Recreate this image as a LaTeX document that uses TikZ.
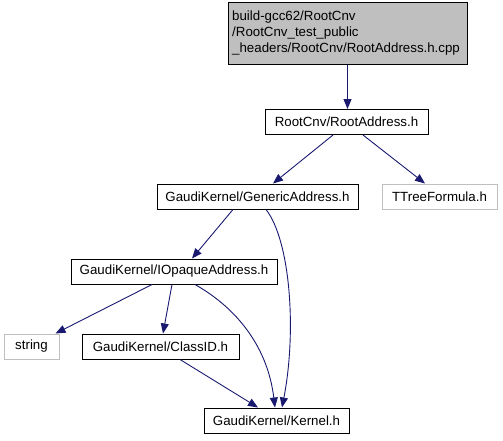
\documentclass[tikz,border=0pt]{standalone}
\usepackage{fontspec}
\setmainfont{Liberation Sans}
\usetikzlibrary{arrows.meta}
\definecolor{edgeblue}{HTML}{191970}
\definecolor{boxgray}{HTML}{BFBFBF}
\begin{document}
\begin{tikzpicture}[x=1pt,y=-1pt,
  box/.style={draw=black,line width=1pt,inner sep=0pt,minimum height=25pt,font=\fontsize{13.3}{15.5}\selectfont},
  greybox/.style={box,draw=boxgray},
  dep/.style={draw=edgeblue,line width=0.9pt,-{Triangle[length=10pt,width=8pt]}}]
\useasboundingbox (0,0) rectangle (503,440);
\node[box,fill=boxgray,minimum width=239pt,minimum height=62pt] (top) at (347.5,33) {};
\node[anchor=west,align=left,inner sep=0pt,font=\fontsize{13.3}{16}\selectfont] (toptext) at (232,33) {build-gcc62/RootCnv\\/RootCnv\_test\_public\\\_headers/RootCnv/RootAddress.h.cpp};
\node[box,minimum width=163pt] (ra) at (346.5,122) {RootCnv/RootAddress.h};
\node[box,minimum width=201pt] (ga) at (257.5,196.5) {GaudiKernel/GenericAddress.h};
\node[greybox,minimum width=115pt] (tt) at (439.5,196.5) {TTreeFormula.h};
\node[box,minimum width=206pt] (io) at (174,271.5) {GaudiKernel/IOpaqueAddress.h};
\node[greybox,minimum width=55pt] (str) at (31.5,346.5) {string};
\node[box,minimum width=157pt] (cid) at (160.5,346.5) {GaudiKernel/ClassID.h};
\node[box,minimum width=145pt] (k) at (276.5,420.5) {GaudiKernel/Kernel.h};
\draw[dep] (top.south) -- (top.south |- ra.north);
\draw[dep] ([xshift=-13.5pt]ra.south) -- ([xshift=15.5pt]ga.north);
\draw[dep] ([xshift=16.5pt]ra.south) -- ([xshift=-14.5pt]tt.north);
\draw[dep] ([xshift=-24.5pt]ga.south) -- ([xshift=18pt]io.north);
\draw[dep] ([xshift=8.5pt]ga.south) .. controls (290,240) and (297,330) .. ([xshift=5.5pt]k.north);
\draw[dep] ([xshift=-22pt]io.south) -- ([xshift=24pt]str.north);
\draw[dep] ([xshift=-2pt]io.south) -- ([xshift=2.5pt]cid.north);
\draw[dep] ([xshift=21pt]io.south) .. controls (240,310) and (268,350) .. ([xshift=-1.5pt]k.north);
\draw[dep] ([xshift=19.5pt]cid.south) -- ([xshift=-18.5pt]k.north);
\end{tikzpicture}
\end{document}
